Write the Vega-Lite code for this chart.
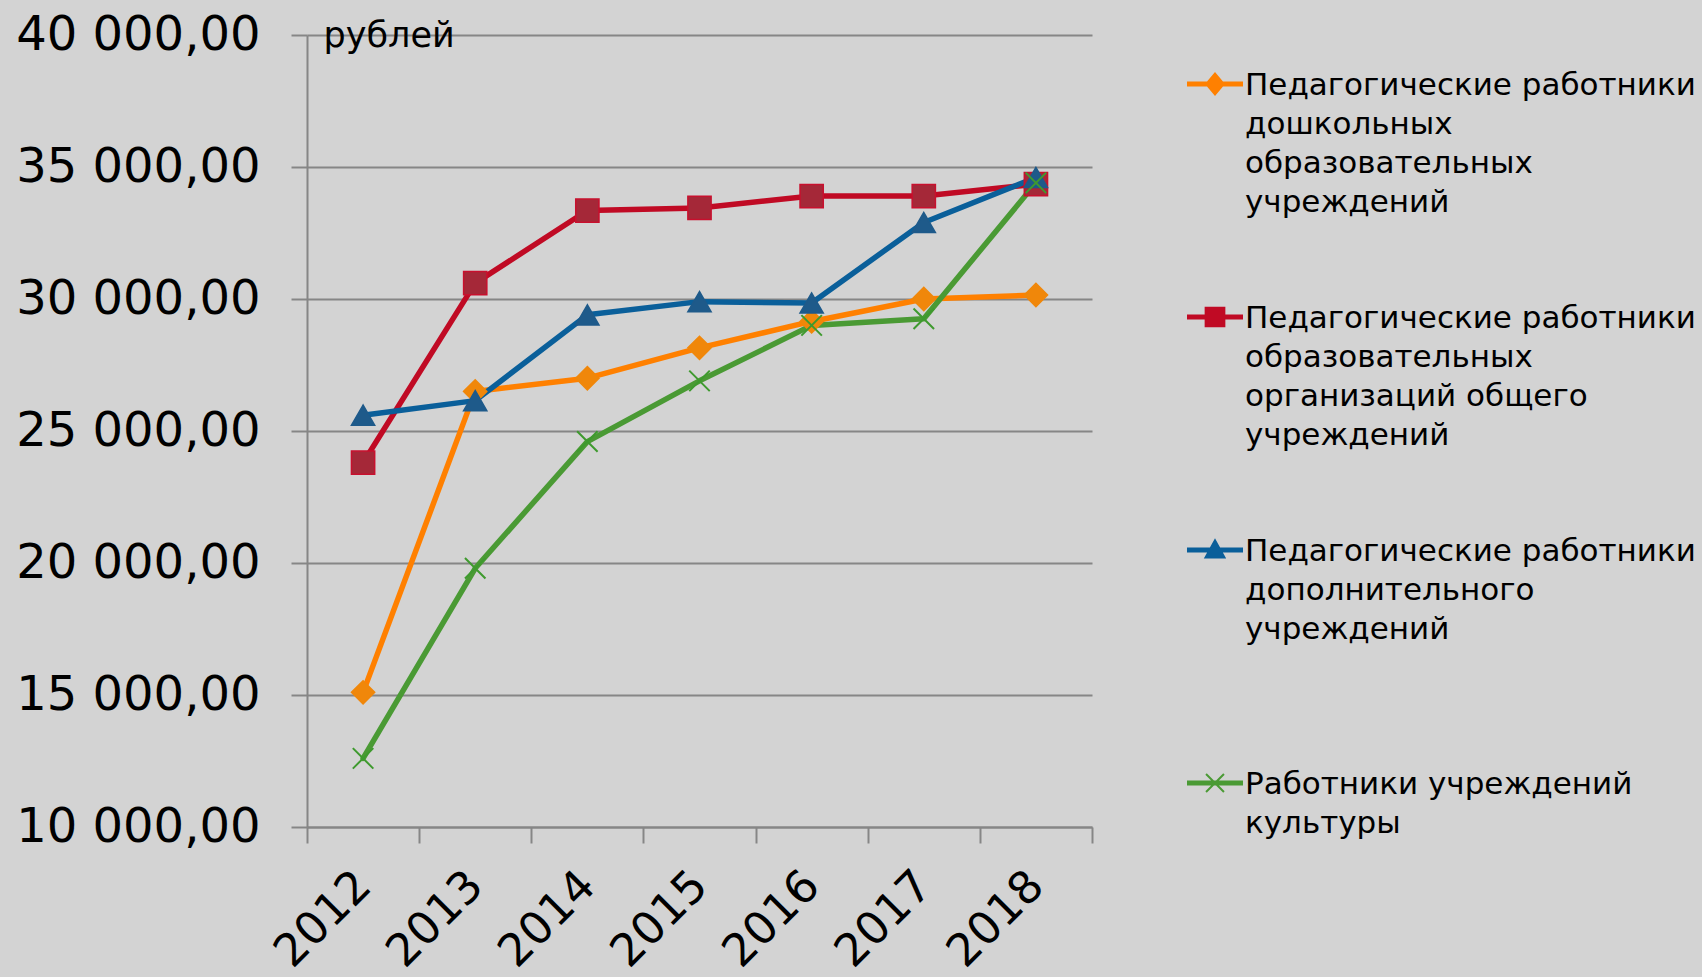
{
  "$schema": "https://vega.github.io/schema/vega-lite/v6.json",
  "width": 785,
  "height": 792,
  "autosize": {"type": "none"},
  "padding": {"left": 307, "top": 35, "right": 610, "bottom": 150},
  "background": "#d3d3d3",
  "config": {"view": {"stroke": null}, "font": "DejaVu Sans"},
  "data": {
    "values": [
      {"series": "Педагогические работники дошкольных образовательных учреждений", "year": 2012, "value": 15100},
      {"series": "Педагогические работники дошкольных образовательных учреждений", "year": 2013, "value": 26500},
      {"series": "Педагогические работники дошкольных образовательных учреждений", "year": 2014, "value": 27000},
      {"series": "Педагогические работники дошкольных образовательных учреждений", "year": 2015, "value": 28150},
      {"series": "Педагогические работники дошкольных образовательных учреждений", "year": 2016, "value": 29150},
      {"series": "Педагогические работники дошкольных образовательных учреждений", "year": 2017, "value": 30000},
      {"series": "Педагогические работники дошкольных образовательных учреждений", "year": 2018, "value": 30150},
      {"series": "Педагогические работники образовательных организаций общего учреждений", "year": 2012, "value": 23800},
      {"series": "Педагогические работники образовательных организаций общего учреждений", "year": 2013, "value": 30600},
      {"series": "Педагогические работники образовательных организаций общего учреждений", "year": 2014, "value": 33350},
      {"series": "Педагогические работники образовательных организаций общего учреждений", "year": 2015, "value": 33450},
      {"series": "Педагогические работники образовательных организаций общего учреждений", "year": 2016, "value": 33900},
      {"series": "Педагогические работники образовательных организаций общего учреждений", "year": 2017, "value": 33900},
      {"series": "Педагогические работники образовательных организаций общего учреждений", "year": 2018, "value": 34350},
      {"series": "Педагогические работники дополнительного учреждений", "year": 2012, "value": 25600},
      {"series": "Педагогические работники дополнительного учреждений", "year": 2013, "value": 26150},
      {"series": "Педагогические работники дополнительного учреждений", "year": 2014, "value": 29400},
      {"series": "Педагогические работники дополнительного учреждений", "year": 2015, "value": 29900},
      {"series": "Педагогические работники дополнительного учреждений", "year": 2016, "value": 29850},
      {"series": "Педагогические работники дополнительного учреждений", "year": 2017, "value": 32900},
      {"series": "Педагогические работники дополнительного учреждений", "year": 2018, "value": 34600},
      {"series": "Работники учреждений культуры", "year": 2012, "value": 12600},
      {"series": "Работники учреждений культуры", "year": 2013, "value": 19800},
      {"series": "Работники учреждений культуры", "year": 2014, "value": 24600},
      {"series": "Работники учреждений культуры", "year": 2015, "value": 26900},
      {"series": "Работники учреждений культуры", "year": 2016, "value": 29000},
      {"series": "Работники учреждений культуры", "year": 2017, "value": 29250},
      {"series": "Работники учреждений культуры", "year": 2018, "value": 34400}
    ]
  },
  "layer": [
    {
      "mark": {"type": "line", "strokeWidth": 5.5, "strokeJoin": "round", "strokeCap": "round"},
      "encoding": {
        "x": {
          "field": "year", "type": "quantitative",
          "scale": {"domain": [2011.5, 2018.5], "nice": false, "zero": false},
          "axis": {
            "orient": "bottom",
            "values": [2011.5, 2012.5, 2013.5, 2014.5, 2015.5, 2016.5, 2017.5, 2018.5],
            "labels": false, "grid": false, "title": null,
            "domainColor": "#868686", "domainWidth": 2,
            "tickColor": "#868686", "tickWidth": 2, "tickSize": 16
          }
        },
        "y": {
          "field": "value", "type": "quantitative",
          "scale": {"domain": [10000, 40000], "nice": false, "zero": false},
          "axis": {
            "values": [10000, 15000, 20000, 25000, 30000, 35000, 40000],
            "labelExpr": "replace(replace(format(datum.value, ',.2f'), ',', ' '), '.', ',')",
            "labelFontSize": 48, "labelColor": "#000000", "labelPadding": 31, "labelFont": "DejaVu Sans",
            "labelLimit": 500,
            "tickSize": 16, "tickColor": "#868686", "tickWidth": 2,
            "domainColor": "#868686", "domainWidth": 2,
            "grid": true, "gridColor": "#868686", "gridWidth": 2,
            "title": "рублей", "titleAngle": 0, "titleX": 16, "titleY": 0,
            "titleAlign": "left", "titleBaseline": "middle",
            "titleFontSize": 35, "titleFontWeight": "normal", "titleColor": "#000000", "titleFont": "DejaVu Sans"
          }
        },
        "color": {
          "field": "series", "type": "nominal",
          "scale": {
            "domain": [
              "Педагогические работники дошкольных образовательных учреждений",
              "Педагогические работники образовательных организаций общего учреждений",
              "Педагогические работники дополнительного учреждений",
              "Работники учреждений культуры"
            ],
            "range": ["#ff8000", "#c00a24", "#0a5f9a", "#4a9a34"]
          },
          "legend": {
            "orient": "none", "legendX": 880, "legendY": 21,
            "title": null, "padding": 0,
            "symbolSize": 3136, "symbolStrokeWidth": 0,
            "labelFontSize": 31, "labelFont": "DejaVu Sans", "labelColor": "#000000",
            "labelLimit": 1000, "labelOffset": 2, "labelBaseline": "top",
            "gridAlign": "all", "rowPadding": 71,
            "labelExpr": "datum.label == 'Работники учреждений культуры' ? ['Работники учреждений', 'культуры'] : datum.label == 'Педагогические работники дополнительного учреждений' ? ['Педагогические работники', 'дополнительного', 'учреждений'] : datum.label == 'Педагогические работники образовательных организаций общего учреждений' ? ['Педагогические работники', 'образовательных', 'организаций общего', 'учреждений'] : ['Педагогические работники', 'дошкольных', 'образовательных', 'учреждений']",
            "encode": {
              "symbols": {
                "update": {
                  "shape": {"signal": "datum.index == 0 ? 'M-1,-0.09H1V0.09H-1Z M0,-0.43L0.36,0L0,0.43L-0.36,0Z' : datum.index == 1 ? 'M-1,-0.09H1V0.09H-1Z M-0.37,-0.37H0.37V0.37H-0.37Z' : datum.index == 2 ? 'M-1,-0.09H1V0.09H-1Z M0,-0.42L0.4,0.3H-0.4Z' : 'M-1,-0.09H1V0.09H-1Z M-0.295,-0.345L0.345,0.295L0.295,0.345L-0.345,-0.295Z M0.295,-0.345L0.345,-0.295L-0.295,0.345L-0.345,0.295Z'"},
                  "fill": {"signal": "datum.index == 0 ? '#ff8000' : datum.index == 1 ? '#c00a24' : datum.index == 2 ? '#0a5f9a' : '#4a9a34'"},
                  "stroke": {"value": "transparent"},
                  "strokeWidth": {"value": 0},
                  "opacity": {"value": 1}
                }
              },
              "labels": {
                "update": {
                  "dy": {"value": -13},
                  "lineHeight": {"value": 39}
                }
              }
            }
          }
        }
      }
    },
    {
      "transform": [{"filter": "datum.series !== 'Работники учреждений культуры'"}],
      "mark": {"type": "point", "filled": true, "size": 540, "strokeWidth": 1.5, "opacity": 1},
      "encoding": {
        "x": {
          "field": "year", "type": "quantitative",
          "axis": {
            "orient": "bottom",
            "values": [2012, 2013, 2014, 2015, 2016, 2017, 2018],
            "format": "d",
            "ticks": false, "tickSize": 0, "domain": false, "grid": false, "title": null,
            "labelAngle": -45, "labelAlign": "right", "labelBaseline": "middle",
            "labelOverlap": false, "labelFlush": false,
            "labelPadding": 51, "labelFontSize": 45, "labelColor": "#000000", "labelFont": "DejaVu Sans"
          }
        },
        "y": {"field": "value", "type": "quantitative"},
        "shape": {
          "field": "series", "type": "nominal",
          "scale": {
            "domain": [
              "Педагогические работники дошкольных образовательных учреждений",
              "Педагогические работники образовательных организаций общего учреждений",
              "Педагогические работники дополнительного учреждений"
            ],
            "range": ["diamond", "square", "triangle-up"]
          },
          "legend": null
        },
        "fill": {
          "field": "series", "type": "nominal",
          "scale": {
            "domain": [
              "Педагогические работники дошкольных образовательных учреждений",
              "Педагогические работники образовательных организаций общего учреждений",
              "Педагогические работники дополнительного учреждений"
            ],
            "range": ["#f0870a", "#a52838", "#1e5a8a"]
          },
          "legend": null
        },
        "stroke": {
          "field": "series", "type": "nominal",
          "scale": {
            "domain": [
              "Педагогические работники дошкольных образовательных учреждений",
              "Педагогические работники образовательных организаций общего учреждений",
              "Педагогические работники дополнительного учреждений"
            ],
            "range": ["#f0870a", "#c8102e", "#1e5a8a"]
          },
          "legend": null
        }
      }
    },
    {
      "transform": [{"filter": "datum.series === 'Работники учреждений культуры'"}],
      "mark": {"type": "point", "filled": false, "shape": "M-1,-1L1,1M1,-1L-1,1", "size": 420, "strokeWidth": 2, "color": "#3e9a2e", "opacity": 1},
      "encoding": {
        "x": {"field": "year", "type": "quantitative", "axis": null},
        "y": {"field": "value", "type": "quantitative"}
      }
    }
  ],
  "resolve": {"axis": {"x": "independent"}, "scale": {"fill": "independent", "stroke": "independent"}}
}
